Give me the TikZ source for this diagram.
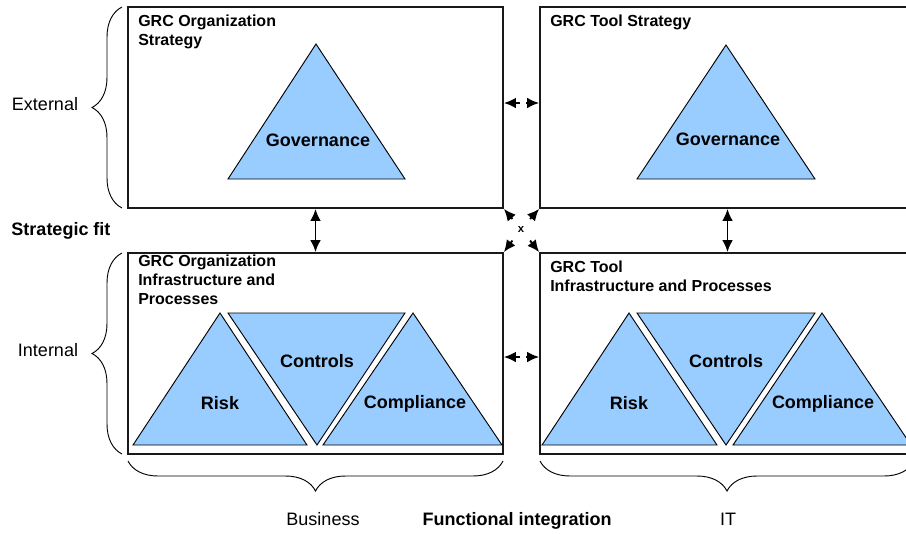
\documentclass[tikz,border=0pt]{standalone}
\usepackage{fontspec}
\setmainfont{Liberation Sans}
\usepackage{tikz}
\usetikzlibrary{arrows.meta, calc, fit, decorations.pathreplacing}
\definecolor{grcblue}{RGB}{153, 204, 255}
\definecolor{grcline}{RGB}{25, 25, 25}

\begin{document}
\begin{tikzpicture}[x=0.75pt, y=-0.75pt,
  box/.style={draw=grcline, line width=1.3pt, inner sep=0pt},
  tri/.style={draw=black, fill=grcblue, line width=0.7pt},
  title/.style={anchor=north west, inner sep=0pt, align=left, font=\fontsize{12}{14.25}\selectfont\bfseries},
  tlabel/.style={font=\fontsize{13.5}{16}\selectfont\bfseries},
  side/.style={font=\fontsize{13.5}{16}\selectfont},
  arr/.style={line width=1.4pt, -{Latex[length=9pt, width=8pt]}},
  darr/.style={line width=1.4pt, {Latex[length=9pt, width=8pt]}-{Latex[length=9pt, width=8pt]}},
  curly/.style={decorate, decoration={brace, amplitude=22.5pt}, line width=0.7pt}
]
  \useasboundingbox (0,0) rectangle (906,533);

  % Four domains
  \node[box, fit={(128,7) (503,208)}] (orgstrat) {};
  \node[box, fit={(540,7) (915,208)}] (toolstrat) {};
  \node[box, fit={(128,253) (503,454)}] (orginfra) {};
  \node[box, fit={(540,253) (915,454)}] (toolinfra) {};

  \node[title] (orgstrattitle) at (138,15) {GRC Organization\\Strategy};
  \node[title] (toolstrattitle) at (550,15) {GRC Tool Strategy};
  \node[title] (orginfratitle) at (138,255) {GRC Organization\\Infrastructure and\\Processes};
  \node[title] (toolinfratitle) at (550,261) {GRC Tool\\Infrastructure and Processes};

  % Governance triangles
  \draw[tri] (228,179) -- (316,44) -- (405,179) -- cycle;
  \draw[tri] (637,179) -- (726,45) -- (815,179) -- cycle;
  \node[tlabel] (orggov) at (318,140) {Governance};
  \node[tlabel] (toolgov) at (728,139) {Governance};

  % Risk, controls, compliance
  \draw[tri] (133,445) -- (220,313) -- (307,445) -- cycle;
  \draw[tri] (228,313) -- (405,313) -- (317,445) -- cycle;
  \draw[tri] (323,445) -- (413,313) -- (502,445) -- cycle;
  \node[tlabel] (orgrisk) at (220,403) {Risk};
  \node[tlabel] (orgctrl) at (317,361) {Controls};
  \node[tlabel] (orgcomp) at (415,404) {Compliance};

  \draw[tri] (542,445) -- (629,313) -- (717,445) -- cycle;
  \draw[tri] (637,313) -- (815,313) -- (726,445) -- cycle;
  \draw[tri] (733,445) -- (822,313) -- (911,445) -- cycle;
  \node[tlabel] (toolrisk) at (629,403) {Risk};
  \node[tlabel] (toolctrl) at (726,361) {Controls};
  \node[tlabel] (toolcomp) at (823,404) {Compliance};

  % Links between the domains
  \coordinate (linktop) at (521,103);
  \coordinate (linkbot) at (521,357);
  \draw[arr] ([xshift=-1pt]linktop) -- (linktop -| orgstrat.east);
  \draw[arr] ([xshift=4pt]linktop) -- (linktop -| toolstrat.west);
  \draw[arr] ([xshift=-1pt]linkbot) -- (linkbot -| orginfra.east);
  \draw[arr] ([xshift=4pt]linkbot) -- (linkbot -| toolinfra.west);
  \draw[darr] (orgstrat) -- (orginfra);
  \draw[darr] (toolstrat) -- (toolinfra);

  \node[inner sep=0pt, font=\fontsize{8.5}{8.5}\selectfont\bfseries] (cross) at (521,229) {x};
  \foreach \c in {orgstrat.south east, toolstrat.south west, orginfra.north east, toolinfra.north west}
    \draw[arr] ($(cross)!0.5!(\c)$) -- (\c);

  % Braces and labels
  \draw[curly] (122,208) -- (122,7);
  \draw[curly] (122,454) -- (122,253);
  \draw[curly] (503,461) -- (128,461);
  \draw[curly] (914,461) -- (540,461);

  \node[side] (external) at (45,104) {External};
  \node[side] (internal) at (48,350) {Internal};
  \node[tlabel] (fit) at (61,231) {Strategic fit};
  \node[side] (business) at (323,519) {Business};
  \node[tlabel] (funcint) at (517,521) {Functional integration};
  \node[side] (it) at (728,519) {IT};
\end{tikzpicture}
\end{document}
